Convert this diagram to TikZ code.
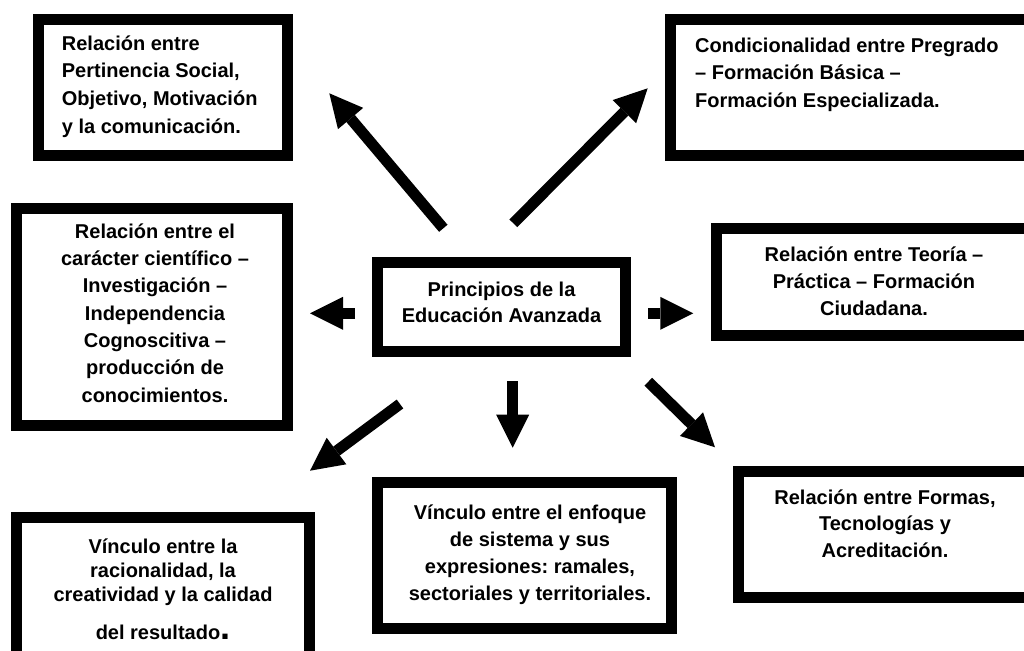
\documentclass[tikz,border=0pt]{standalone}
\usepackage{fontspec}
\setmainfont{Liberation Sans}
\usetikzlibrary{arrows.meta}
\newcommand{\topstrut}{\rule{0pt}{22pt}}
\frenchspacing
\begin{document}
\begin{tikzpicture}[x=1pt,y=-1pt,
  box/.style={draw=black, line width=11pt, fill=white, rectangle, inner sep=0pt, outer sep=0pt},
  txt/.style={inner sep=0pt, text=black, font=\bfseries\frenchspacing\fontsize{20}{#1}\selectfont},
  blockarrow/.style={draw=black, line width=11pt, -{Triangle[length=33pt,width=33pt,line width=0pt]}}]
\useasboundingbox (0,0) rectangle (1024,650);
\fill[white] (0,0) rectangle (1024,650);
\clip (0,0) rectangle (1024,650);

% boxes
\node[box, minimum width=248.4pt, minimum height=135.7pt] (b1) at (163,87.35) {};
\node[box, minimum width=364pt,   minimum height=135.7pt] (b2) at (852.5,87.35) {};
\node[box, minimum width=271pt,   minimum height=216.4pt] (b3) at (151.7,317) {};
\node[box, minimum width=248pt,   minimum height=89pt]    (b4) at (501.5,307) {};
\node[box, minimum width=318.3pt, minimum height=106.4pt] (b5) at (875.35,282) {};
\node[box, minimum width=293.3pt, minimum height=142.3pt] (b6) at (162.85,588.35) {};
\node[box, minimum width=294pt,   minimum height=145.7pt] (b7) at (524.2,555.65) {};
\node[box, minimum width=296.3pt, minimum height=126.3pt] (b8) at (886.35,534.65) {};

% texts
\node[txt=27.7, anchor=north west, align=left] (t1) at (61.7,28)
  {\topstrut Relación entre\\Pertinencia Social,\\Objetivo, Motivación\\y la comunicación.};
\node[txt=27.5, anchor=north west, align=left] (t2) at (695,30)
  {\topstrut Condicionalidad entre Pregrado\\– Formación Básica –\\Formación Especializada.};
\node[txt=27.3, anchor=north, align=center] (t3) at (155,216)
  {\topstrut Relación entre el\\carácter científico –\\Investigación –\\Independencia\\Cognoscitiva –\\producción de\\conocimientos.};
\node[txt=25.6, anchor=north, align=center] (t4) at (501.5,274.7)
  {\topstrut Principios de la\\Educación Avanzada};
\node[txt=26.7, anchor=north, align=center] (t5) at (874,239.7)
  {\topstrut Relación entre Teoría –\\Práctica – Formación\\Ciudadana.};
\node[txt=24, anchor=north, align=center] (t6) at (163,531)
  {\topstrut Vínculo entre la\\racionalidad, la\\creatividad y la calidad\\[14pt]del resultado{\fontsize{36}{36}\selectfont .}};
\node[txt=27, anchor=north, align=center] (t7) at (530,497)
  {\topstrut Vínculo entre el enfoque\\de sistema y sus\\expresiones: ramales,\\sectoriales y territoriales.};
\node[txt=26.5, anchor=north, align=center] (t8) at (885,482)
  {\topstrut Relación entre Formas,\\Tecnologías y\\Acreditación.};

% arrow end points
\coordinate (wS) at (355,313.3);   \coordinate (wE) at (310,313.3);
\coordinate (eS) at (648.3,313.3); \coordinate (eE) at (693.3,313.3);
\coordinate (nwS) at (443.3,228.3); \coordinate (nwE) at (329.3,93.3);
\coordinate (neS) at (513.3,223.3); \coordinate (neE) at (647.7,88.3);
\coordinate (sS) at (512.7,381);   \coordinate (sE) at (512.7,447.7);
\coordinate (swS) at (400,404);    \coordinate (swE) at (310,470.7);
\coordinate (seS) at (648.3,381.7); \coordinate (seE) at (715,447.3);

\draw[blockarrow] (wS) -- (wE);
\draw[blockarrow] (eS) -- (eE);
\draw[blockarrow] (nwS) -- (nwE);
\draw[blockarrow] (neS) -- (neE);
\draw[blockarrow] (sS) -- (sE);
\draw[blockarrow] (swS) -- (swE);
\draw[blockarrow] (seS) -- (seE);
\end{tikzpicture}
\end{document}
